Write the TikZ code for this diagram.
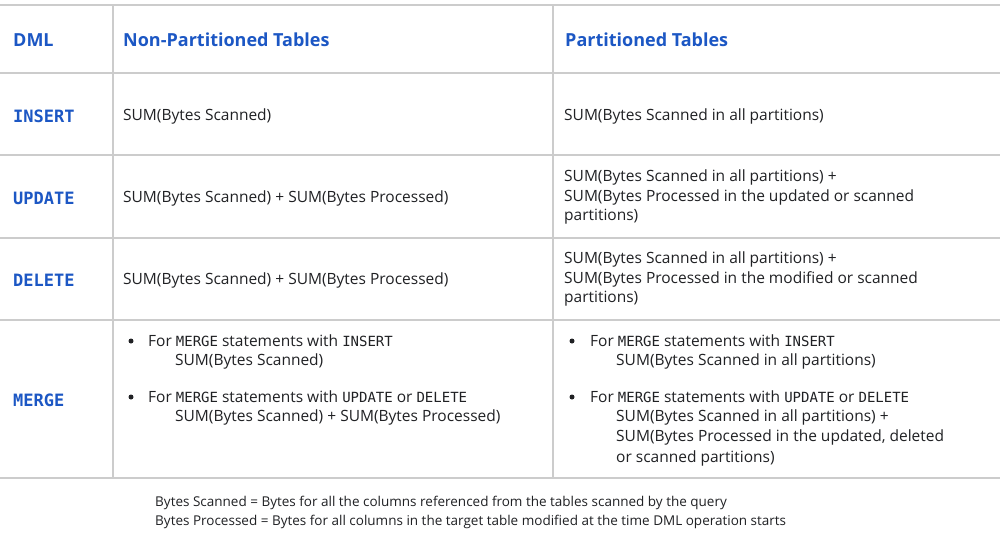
\documentclass[tikz,border=0pt]{standalone}
\usepackage{fontspec}
\setmainfont{Open Sans}
\setmonofont{DejaVu Sans Mono}
\definecolor{hdr}{HTML}{1C57C4}
\definecolor{grid}{HTML}{CCCCCC}
\definecolor{txt}{HTML}{202124}
\begin{document}
\begin{tikzpicture}[x=1pt,y=-1pt,
  grd/.style={draw=grid,line width=1.5pt},
  hd/.style={anchor=west,inner sep=0pt,text=hdr,font=\fontsize{18}{22}\selectfont\bfseries},
  dml/.style={anchor=west,inner sep=0pt,text=hdr,font=\fontsize{17}{20}\selectfont\ttfamily\bfseries},
  cell/.style={anchor=west,inner sep=0pt,text=txt,font=\fontsize{15.5}{20}\selectfont},
  foot/.style={anchor=west,inner sep=0pt,text=txt,font=\fontsize{13.5}{16}\selectfont},
  bul/.style={circle,fill=txt,inner sep=0pt,minimum size=5pt}]
\useasboundingbox (0,0) rectangle (1000,536);
\fill[white] (0,0) rectangle (1000,536);
\foreach \y/\n in {5/h0,73/h1,155/h2,238/h3,320/h4,478/h5}
  {\coordinate (\n l) at (0,\y); \coordinate (\n r) at (1000,\y); \draw[grd] (\n l) -- (\n r);}
\coordinate (v1t) at (113,5); \coordinate (v1b) at (113,478);
\coordinate (v2t) at (553,5); \coordinate (v2b) at (553,478);
\draw[grd] (v1t) -- (v1b); \draw[grd] (v2t) -- (v2b);
\newcommand{\mt}[1]{{\ttfamily\fontsize{14}{16}\selectfont #1}}
\node[hd] (hdml) at (13,40) {DML};
\node[hd] (hnp) at (123,40) {Non-Partitioned Tables};
\node[hd] (hp) at (565,40) {Partitioned Tables};
\node[dml] (dins) at (13,116) {INSERT};
\node[dml] (dupd) at (13,198) {UPDATE};
\node[dml] (ddel) at (13,280) {DELETE};
\node[dml] (dmrg) at (13,400) {MERGE};
\node[cell] (c21) at (123,116) {SUM(Bytes Scanned)};
\node[cell] (c31) at (564,116) {SUM(Bytes Scanned in all partitions)};
\node[cell] (c22) at (123,198) {SUM(Bytes Scanned) + SUM(Bytes Processed)};
\node[cell] (c32a) at (564,177) {SUM(Bytes Scanned in all partitions) +};
\node[cell] (c32b) at (564,197) {SUM(Bytes Processed in the updated or scanned};
\node[cell] (c32c) at (564,217) {partitions)};
\node[cell] (c23) at (123,280) {SUM(Bytes Scanned) + SUM(Bytes Processed)};
\node[cell] (c33a) at (564,259) {SUM(Bytes Scanned in all partitions) +};
\node[cell] (c33b) at (564,279) {SUM(Bytes Processed in the modified or scanned};
\node[cell] (c33c) at (564,299) {partitions)};
% merge non-partitioned
\node[bul] (b1) at (131,341) {};
\node[cell] (m1a) at (148,341) {For \mt{MERGE} statements with \mt{INSERT}};
\node[cell] (m1b) at (175,361) {SUM(Bytes Scanned)};
\node[bul] (b2) at (131,397) {};
\node[cell] (m2a) at (148,397) {For \mt{MERGE} statements with \mt{UPDATE} or \mt{DELETE}};
\node[cell] (m2b) at (175,417) {SUM(Bytes Scanned) + SUM(Bytes Processed)};
% merge partitioned
\node[bul] (b3) at (572,341) {};
\node[cell] (p1a) at (590,341) {For \mt{MERGE} statements with \mt{INSERT}};
\node[cell] (p1b) at (616,361) {SUM(Bytes Scanned in all partitions)};
\node[bul] (b4) at (572,397) {};
\node[cell] (p2a) at (590,397) {For \mt{MERGE} statements with \mt{UPDATE} or \mt{DELETE}};
\node[cell] (p2b) at (616,417) {SUM(Bytes Scanned in all partitions) +};
\node[cell] (p2c) at (616,437) {SUM(Bytes Processed in the updated, deleted};
\node[cell] (p2d) at (616,458) {or scanned partitions)};
\node[foot] (f1) at (155,503) {Bytes Scanned = Bytes for all the columns referenced from the tables scanned by the query};
\node[foot] (f2) at (155,522) {Bytes Processed = Bytes for all columns in the target table modified at the time DML operation starts};
\end{tikzpicture}
\end{document}
